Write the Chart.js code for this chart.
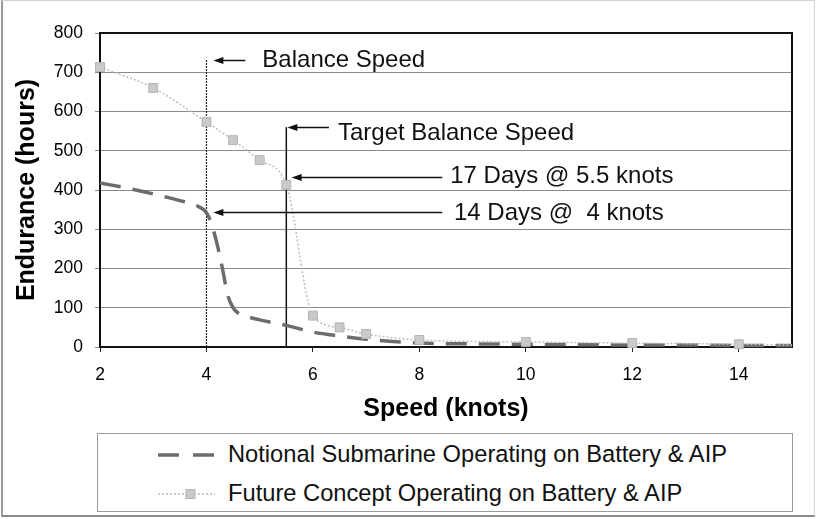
<!DOCTYPE html>
<html>
<head>
<meta charset="utf-8">
<title>Endurance vs Speed</title>
<script src="https://cdn.jsdelivr.net/npm/chart.js@4.4.0/dist/chart.umd.min.js"></script>
<style>
  html, body { margin: 0; padding: 0; background: #fff; }
  #wrap { position: relative; width: 819px; height: 519px; font-family: "Liberation Sans", Arial, sans-serif; }
  #frame { position: absolute; left: 1px; top: 0; width: 811px; height: 514px;
           border: 1px solid #d4d4d4; border-left: 2px solid #9a9a9a; border-bottom: 2px solid #8a8a8a; }
  #chart { position: absolute; left: 0; top: 0; }
  #legend { position: absolute; left: 97px; top: 433px; width: 694px; height: 76px; padding-top: 1px;
            border: 1px solid #9a9a9a; background: #fff; }
  .item { display: flex; align-items: center; height: 39px; padding-left: 60px;
          font-size: 23.7px; color: #111; white-space: nowrap; }
  .item svg { margin-right: 13px; flex: none; }
</style>
</head>
<body>
<div id="wrap">
  <div id="frame"></div>
  <canvas id="chart" width="819" height="519"></canvas>
  <div id="legend"></div>
</div>
<script>
// -----------------------------
// Data
// -----------------------------
const speedNotional = [2, 2.5, 3, 3.5, 3.8, 4, 4.1, 4.2, 4.3, 4.4, 4.5, 4.6, 4.8, 5, 5.5, 6, 6.5, 7, 7.5, 8, 9, 10, 11, 12, 13, 14, 15];
const enduranceNotional = [418, 405, 390, 373, 361, 342, 312, 262, 200, 132, 100, 86, 76, 69, 55, 38, 28, 20, 14, 10, 8, 7, 6, 5, 5, 4, 4];

const speedFuture = [2, 3, 4, 4.5, 5, 5.5, 6, 6.5, 7, 8, 10, 12, 14, 15];
const enduranceFuture = [713, 660, 573, 527, 476, 413, 80, 50, 33, 18, 13, 10, 7, 5];

const seriesNames = [
    "Notional Submarine Operating on Battery & AIP",
    "Future Concept Operating on Battery & AIP",
];

const xTicks = [2, 4, 6, 8, 10, 12, 14];
const yTicks = [0, 100, 200, 300, 400, 500, 600, 700, 800];

// vertical reference lines (speed, top of line in hours)
const refSpeed = [4, 5.5];
const refTop = [732, 560];

// callouts: arrow from tail to tip at height y, then the label
const calloutText = ["Balance Speed", "Target Balance Speed", "17 Days @ 5.5 knots", "14 Days @  4 knots"];
const calloutY = [732, 560, 434, 344];
const calloutTipX = [4.13, 5.52, 5.6, 4.13];
const calloutTailX = [4.73, 6.3, 8.43, 8.43];
const calloutTextX = [5.05, 6.47, 8.58, 8.65];
const calloutTextY = [732, 546, 437, 344];

const FONT = '"Liberation Sans", Arial, sans-serif';

const toPoints = (xs, ys) => xs.map((x, i) => ({ x, y: ys[i] }));

// ============================================
// Plot frame + callout arrows
// ============================================
const plotFrame = {
    id: "plotFrame",
    beforeDatasetsDraw(chart) {
        const { ctx, chartArea: a } = chart;
        ctx.save();
        ctx.strokeStyle = "#111";
        ctx.lineWidth = 2;
        ctx.strokeRect(a.left, a.top, a.right - a.left, a.bottom - a.top);
        ctx.restore();
    },
};

const callouts = {
    id: "callouts",
    afterDatasetsDraw(chart) {
        const { ctx } = chart;
        const xs = chart.scales.x, ys = chart.scales.y;
        ctx.save();
        calloutText.forEach((txt, i) => {
            const y = Math.round(ys.getPixelForValue(calloutY[i])) + 0.5;
            const tip = xs.getPixelForValue(calloutTipX[i]);
            const tail = xs.getPixelForValue(calloutTailX[i]);
            ctx.strokeStyle = "#111";
            ctx.fillStyle = "#111";
            ctx.lineWidth = 1.5;
            ctx.beginPath();
            ctx.moveTo(tip + 6, y);
            ctx.lineTo(tail, y);
            ctx.stroke();
            ctx.beginPath();
            ctx.moveTo(tip, y);
            ctx.lineTo(tip + 10, y - 3.5);
            ctx.lineTo(tip + 10, y + 3.5);
            ctx.closePath();
            ctx.fill();

            ctx.font = "24px " + FONT;
            ctx.textBaseline = "middle";
            ctx.textAlign = "left";
            ctx.fillText(txt, xs.getPixelForValue(calloutTextX[i]), ys.getPixelForValue(calloutTextY[i]) + 1);
        });
        ctx.restore();
    },
};

// ============================================
// Chart
// ============================================
const ctx = document.getElementById("chart").getContext("2d");

const chart = new Chart(ctx, {
    type: "scatter",
    data: {
        datasets: [
            {
                label: seriesNames[1],
                data: toPoints(speedFuture, enduranceFuture),
                showLine: true,
                borderColor: "#bdbdbd",
                borderWidth: 1.5,
                borderDash: [2, 2],
                cubicInterpolationMode: "monotone",
                pointStyle: "rect",
                pointRadius: (c) => (c.dataIndex === speedFuture.length - 1 ? 0 : 6.3),
                pointBackgroundColor: "#cacaca",
                pointBorderColor: "#b4b4b4",
                pointBorderWidth: 1,
                clip: false,
            },
            {
                label: seriesNames[0],
                data: toPoints(speedNotional, enduranceNotional),
                showLine: true,
                borderColor: "#6c6c6c",
                borderWidth: 3.5,
                borderDash: [21, 12],
                cubicInterpolationMode: "monotone",
                pointRadius: 0,
                clip: false,
            },
            {
                label: "Balance Speed",
                data: [{ x: refSpeed[0], y: 0 }, { x: refSpeed[0], y: refTop[0] }],
                showLine: true,
                borderColor: "#222",
                borderWidth: 1.2,
                borderDash: [2, 1],
                pointRadius: 0,
            },
            {
                label: "Target Balance Speed",
                data: [{ x: refSpeed[1], y: 0 }, { x: refSpeed[1], y: refTop[1] }],
                showLine: true,
                borderColor: "#111",
                borderWidth: 1.5,
                pointRadius: 0,
            },
        ],
    },
    options: {
        responsive: false,
        animation: false,
        layout: { padding: { left: 2, top: 33, right: 27, bottom: 89 } },
        plugins: {
            legend: { display: false },
            tooltip: { enabled: false },
        },
        scales: {
            x: {
                type: "linear",
                min: 2,
                max: 15,
                afterBuildTicks: (s) => { s.ticks = xTicks.map((v) => ({ value: v })); },
                afterFit: (s) => { s.height = 83; },
                border: { display: false },
                grid: { drawOnChartArea: false, drawTicks: true, tickLength: 5, color: "#222" },
                ticks: { color: "#000", font: { family: FONT, size: 17.5 }, padding: 13, maxRotation: 0 },
                title: {
                    display: true,
                    text: "Speed (knots)",
                    color: "#000",
                    font: { family: FONT, size: 25, weight: "bold" },
                    padding: { top: 0, bottom: 6 },
                },
            },
            y: {
                min: 0,
                max: 800,
                afterBuildTicks: (s) => { s.ticks = yTicks.map((v) => ({ value: v })); },
                afterFit: (s) => { s.width = 98; },
                border: { display: false },
                grid: { color: "#8a8a8a", lineWidth: 1, tickLength: 5 },
                ticks: { color: "#000", font: { family: FONT, size: 17.5 }, padding: 12 },
                title: {
                    display: true,
                    text: "Endurance (hours)",
                    color: "#000",
                    font: { family: FONT, size: 25, weight: "bold" },
                    padding: { top: 10, bottom: 0 },
                },
            },
        },
    },
    plugins: [plotFrame, callouts],
});

// ============================================
// Legend box (HTML, built from the series names)
// ============================================
const samples = [
    '<svg width="57" height="12"><line x1="0" y1="6" x2="57" y2="6" stroke="#6c6c6c" stroke-width="3.5" stroke-dasharray="21 14"/></svg>',
    '<svg width="57" height="12"><line x1="0" y1="6" x2="57" y2="6" stroke="#bdbdbd" stroke-width="1.5" stroke-dasharray="2 2"/>' +
        '<rect x="28" y="1.5" width="9" height="9" fill="#cacaca" stroke="#b4b4b4" stroke-width="1"/></svg>',
];
const legend = document.getElementById("legend");
seriesNames.forEach((name, i) => {
    const row = document.createElement("div");
    row.className = "item";
    row.innerHTML = samples[i];
    const span = document.createElement("span");
    span.textContent = name;
    row.appendChild(span);
    legend.appendChild(row);
});
</script>
</body>
</html>
